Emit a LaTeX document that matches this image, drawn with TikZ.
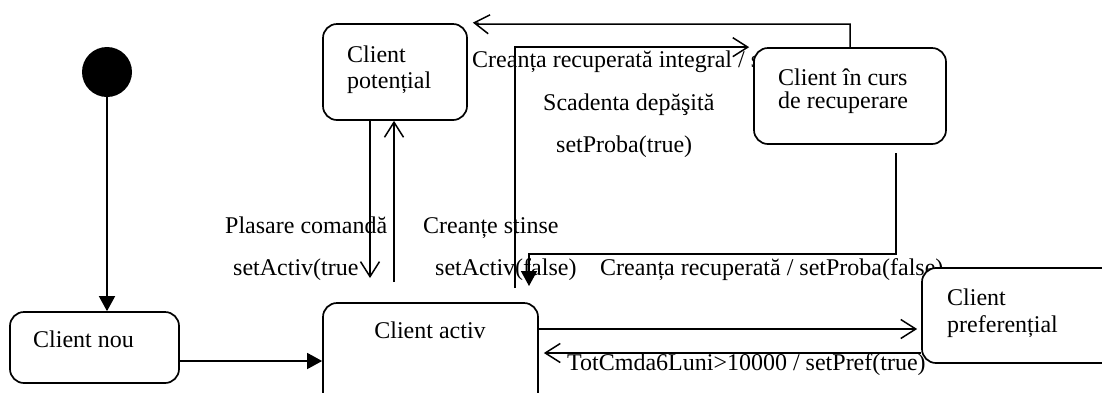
\documentclass[tikz,border=0pt]{standalone}
\usepackage{fontspec}
\setmainfont{Liberation Serif}
\usetikzlibrary{arrows.meta}
\begin{document}
\begin{tikzpicture}[x=1pt,y=-1pt,
  every node/.style={font=\fontsize{24}{27}\selectfont, inner sep=0pt},
  txt/.style={anchor=base west},
  statebox/.style={draw, line width=1.7pt, rounded corners=14pt, fill=white},
  conn/.style={line width=1.5pt},
  openarrow/.style={conn, -{Straight Barb[length=15pt,width=19pt,line width=1.5pt]}},
  fillarrow/.style={conn, -{Triangle[length=15pt,width=16pt]}}]
\clip (0,0) rectangle (1102,392);
\fill[white] (0,0) rectangle (1102,392);

% transition labels
\node[txt] (lPlasare) at (225,233) {Plasare comandă};
\node[txt] (lActivTrue) at (233,275) {setActiv(true};
\node[txt] (lStinse) at (423,233) {Creanțe stinse};
\node[txt] (lActivFalse) at (435,275) {setActiv(false)};
\node[txt] (lIntegral) at (472,67) {Creanța recuperată integral / s};
\node[txt] (lScadenta) at (543,110) {Scadenta depăşită};
\node[txt] (lProbaTrue) at (556,152) {setProba(true)};
\node[txt] (lRecuperata) at (600,275) {Creanța recuperată / setProba(false)};
\node[txt] (lPref) at (567,370) {TotCmda6Luni>10000 / setPref(true)};

% initial state
\node[circle, fill=black, minimum size=50pt] (init) at (107,72) {};

% states
\node[statebox, minimum width=169pt, minimum height=71pt] (nou) at (94.5,347.5) {};
\node[statebox, minimum width=215pt, minimum height=107pt] (activ) at (430.5,356.5) {};
\node[statebox, minimum width=144pt, minimum height=96pt] (potential) at (395,72) {};
\node[statebox, minimum width=192pt, minimum height=96pt] (recup) at (850,96) {};
\node[statebox, minimum width=208pt, minimum height=95pt] (pref) at (1026,315.5) {};

% state names
\node[txt] (tNou) at (33,347) {Client nou};
\node[anchor=base] (tActiv) at (430,338) {Client activ};
\node[txt] (tPotA) at (347,62) {Client};
\node[txt] (tPotB) at (347,88) {potențial};
\node[txt] (tRecA) at (778,85) {Client în curs};
\node[txt] (tRecB) at (778,108) {de recuperare};
\node[txt] (tPrefA) at (947,305) {Client};
\node[txt] (tPrefB) at (947,332) {preferențial};

% free ends of transitions
\coordinate (pdEnd) at (370,278);
\coordinate (puStart) at (394,282);
\coordinate (arStart) at (515,288);
\coordinate (raStart) at (896,153);
\coordinate (raEnd) at (529,286);

% transitions
\draw[fillarrow] (init.south) -- (init.south |- nou.north);
\draw[fillarrow] (nou.east |- 0,361) -- (activ.west |- 0,361);
\draw[openarrow] (pdEnd |- potential.south) -- (pdEnd);
\draw[openarrow] (puStart) -- (puStart |- potential.south);
\draw[openarrow] (arStart) |- ([xshift=-4pt]recup.north west);
\draw[openarrow, shorten >=5pt] (recup.north) -- ++(0,-23) -| ([xshift=10pt]potential.north east) -- ([yshift=1pt]potential.north east);
\draw[fillarrow] (raStart) -- ++(0,101) -| (raEnd);
\draw[openarrow] (activ.east |- 0,329) -- ([xshift=-4pt]pref.west |- 0,329);
\draw[openarrow, shorten >=5pt] (pref.west |- 0,353) -- (activ.east |- 0,353);
\end{tikzpicture}
\end{document}
